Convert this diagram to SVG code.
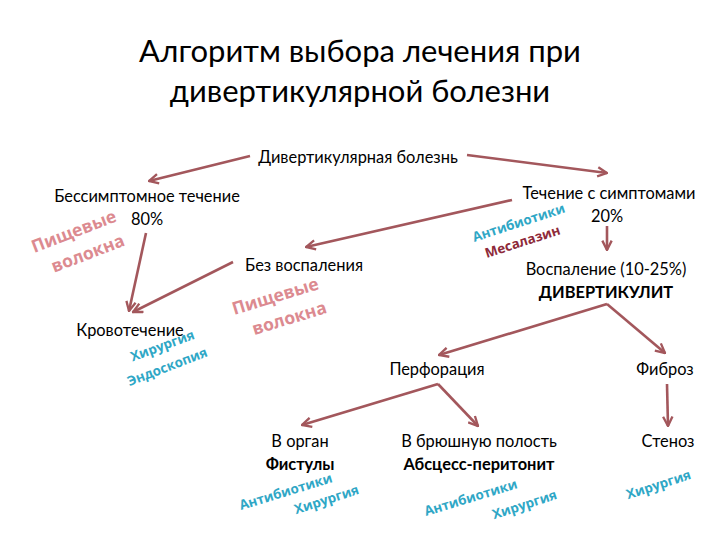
<svg xmlns="http://www.w3.org/2000/svg" width="720" height="540" viewBox="0 0 720 540">
<style>
.t{font-family:Lato,"Liberation Sans",sans-serif;fill:#000;text-anchor:middle}
.title{font-size:31px}
.n{font-size:16.4px}
.b{font-weight:bold}
.pink{font-family:"Open Sans",Lato,sans-serif;font-weight:bold;font-size:17.5px;fill:#dc8a90;text-anchor:middle}
.teal{font-family:"Open Sans",Lato,sans-serif;font-weight:bold;font-size:13.4px;fill:#2fa7c6;text-anchor:middle}
.dred{font-family:"Open Sans",Lato,sans-serif;font-weight:bold;font-size:13.4px;fill:#8e2a3a;text-anchor:middle}
.c{stroke:#a3575c;stroke-width:2.6;fill:none;marker-end:url(#ah)}
</style>
<defs>
<marker id="ah" viewBox="0 0 10 10" refX="9" refY="5" markerWidth="4.5" markerHeight="4.5" orient="auto" markerUnits="strokeWidth">
<path d="M1,1 L9,5 L1,9" fill="none" stroke="#a3575c" stroke-width="2"/>
</marker>
</defs>
<rect width="720" height="540" fill="#fff"/>
<g id="title">
<text class="t title" x="360" y="62">Алгоритм выбора лечения при</text>
<text class="t title" x="360" y="102">дивертикулярной болезни</text>
</g>
<g id="connectors">
<line class="c" x1="250" y1="156" x2="149" y2="181"/>
<line class="c" x1="467" y1="155" x2="607" y2="173"/>
<line class="c" x1="512" y1="200" x2="306" y2="247"/>
<line class="c" x1="607" y1="226" x2="607" y2="250"/>
<line class="c" x1="146" y1="233" x2="129" y2="311"/>
<line class="c" x1="233" y1="262" x2="133" y2="312"/>
<line class="c" x1="607" y1="304" x2="439" y2="355"/>
<line class="c" x1="607" y1="304" x2="665" y2="353"/>
<line class="c" x1="438" y1="384" x2="302" y2="425"/>
<line class="c" x1="438" y1="384" x2="478" y2="426"/>
<line class="c" x1="667" y1="384" x2="668" y2="426"/>
</g>
<g id="n-root"><text class="t n" x="358" y="163">Дивертикулярная болезнь</text></g>
<g id="n-asym"><text class="t n" x="147" y="202">Бессимптомное течение</text><text class="t n" x="147" y="225">80%</text></g>
<g id="n-sym"><text class="t n" x="609" y="199">Течение с симптомами</text><text class="t n" x="607" y="222">20%</text></g>
<g id="n-noinfl"><text class="t n" x="304" y="271">Без воспаления</text></g>
<g id="n-infl"><text class="t n" x="606" y="275">Воспаление (10-25%)</text><text class="t n b" x="606" y="298">ДИВЕРТИКУЛИТ</text></g>
<g id="n-bleed"><text class="t n" x="130" y="336">Кровотечение</text></g>
<g id="n-perf"><text class="t n" x="437" y="375">Перфорация</text></g>
<g id="n-fib"><text class="t n" x="665" y="375">Фиброз</text></g>
<g id="n-organ"><text class="t n" x="300" y="447">В орган</text><text class="t n b" x="300" y="470">Фистулы</text></g>
<g id="n-abd"><text class="t n" x="479" y="447">В брюшную полость</text><text class="t n b" x="479" y="470">Абсцесс-перитонит</text></g>
<g id="n-sten"><text class="t n" x="668" y="447">Стеноз</text></g>
<g id="labels">
<text class="pink" transform="translate(76,237) rotate(-21)">Пищевые</text>
<text class="pink" transform="translate(90,259) rotate(-21)">волокна</text>
<text class="pink" transform="translate(277,302) rotate(-17)">Пищевые</text>
<text class="pink" transform="translate(291,324) rotate(-17)">волокна</text>
<text class="teal" transform="translate(520,227) rotate(-18)">Антибиотики</text>
<text class="dred" transform="translate(524,246) rotate(-18)">Месалазин</text>
<text class="teal" transform="translate(164,350) rotate(-20)">Хирургия</text>
<text class="teal" transform="translate(169,371) rotate(-21)">Эндоскопия</text>
<text class="teal" transform="translate(287,496) rotate(-17)">Антибиотики</text>
<text class="teal" transform="translate(328,504) rotate(-18)">Хирургия</text>
<text class="teal" transform="translate(472,502) rotate(-17)">Антибиотики</text>
<text class="teal" transform="translate(526,509) rotate(-18)">Хирургия</text>
<text class="teal" transform="translate(660,489) rotate(-18)">Хирургия</text>
</g>
</svg>
